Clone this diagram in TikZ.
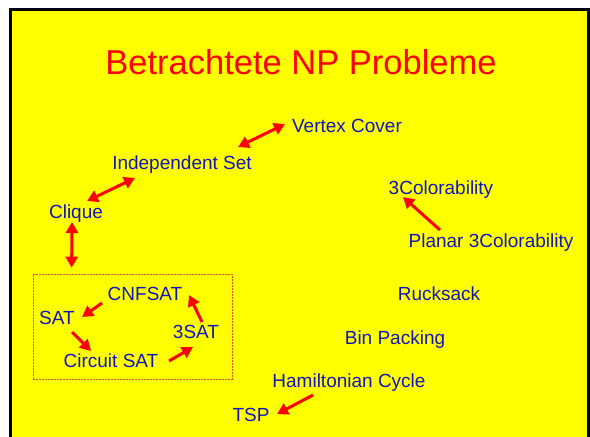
\documentclass[tikz,border=0pt]{standalone}
\usepackage{fontspec}
\setmainfont{Liberation Sans}
\usetikzlibrary{arrows.meta}
\definecolor{bgyellow}{RGB}{255,255,0}
\definecolor{txtblue}{RGB}{20,20,190}
\definecolor{arrred}{RGB}{255,0,0}
\definecolor{boxred}{RGB}{235,80,20}
\begin{document}
\begin{tikzpicture}[x=1pt,y=-1pt,
  prob/.style={text=txtblue,font=\fontsize{19}{22}\selectfont,inner sep=0pt,text height=13.6pt,text depth=0pt},
  rarrow/.style={draw=arrred,line width=3pt,-{Triangle[length=11pt,width=12pt]}},
  rdarrow/.style={draw=arrred,line width=3pt,{Triangle[length=11pt,width=12pt]}-{Triangle[length=11pt,width=12pt]}}]
\useasboundingbox (0,0) rectangle (590,437);
\clip (0,0) rectangle (590,437);
\draw[fill=bgyellow,line width=3pt] (10,9) rectangle (588,460);
\node[text=arrred,font=\fontsize{34.5}{40}\selectfont,inner sep=0pt,text height=24.7pt,text depth=0pt] (title) at (301,62) {Betrachtete NP Probleme};
\node[prob] (vc) at (347,126) {Vertex Cover};
\node[prob] (is) at (182,163) {Independent Set};
\node[prob] (cl) at (76,212) {Clique};
\node[prob] (c3) at (441,188) {3Colorability};
\node[prob] (p3c) at (491,241) {Planar 3Colorability};
\node[prob] (rs) at (439,294) {Rucksack};
\node[prob] (bp) at (395,338) {Bin Packing};
\node[prob] (ham) at (349,381) {Hamiltonian Cycle};
\node[prob] (tsp) at (251,415) {TSP};
\node[prob] (cnf) at (145,294) {CNFSAT};
\node[prob] (sat) at (57,318) {SAT};
\node[prob] (csat) at (111,361) {Circuit SAT};
\node[prob] (s3) at (196,332) {3SAT};
\node[draw=boxred,dashed,dash pattern=on 2pt off 1pt,line width=0.7pt,minimum width=199pt,minimum height=105pt,inner sep=0pt] (box) at (132.5,326.5) {};
\draw[rdarrow] ([shift={(56,-16)}]is.center) -- ([shift={(-62,-2)}]vc.center);
\draw[rdarrow] ([shift={(11,-11)}]cl.center) -- ([shift={(-47,15)}]is.center);
\draw[rdarrow] ([shift={(-4,10)}]cl.center) -- ([shift={(39,-6)}]box.north west);
\draw[rarrow] ([shift={(-43,9)}]cnf.center) -- ([shift={(25,-1)}]sat.center);
\draw[rarrow] ([shift={(15,14)}]sat.center) -- ([shift={(-20,-10)}]csat.center);
\draw[rarrow] ([shift={(58,0)}]csat.center) -- ([shift={(-3,15)}]s3.center);
\draw[rarrow] ([shift={(6,-10)}]s3.center) -- ([shift={(44,1)}]cnf.center);
\draw[rarrow] ([shift={(-36,14)}]ham.center) -- ([shift={(26,-1)}]tsp.center);
\draw[rarrow] ([shift={(-51,-11)}]p3c.center) -- ([shift={(-38,9)}]c3.center);
\end{tikzpicture}
\end{document}
